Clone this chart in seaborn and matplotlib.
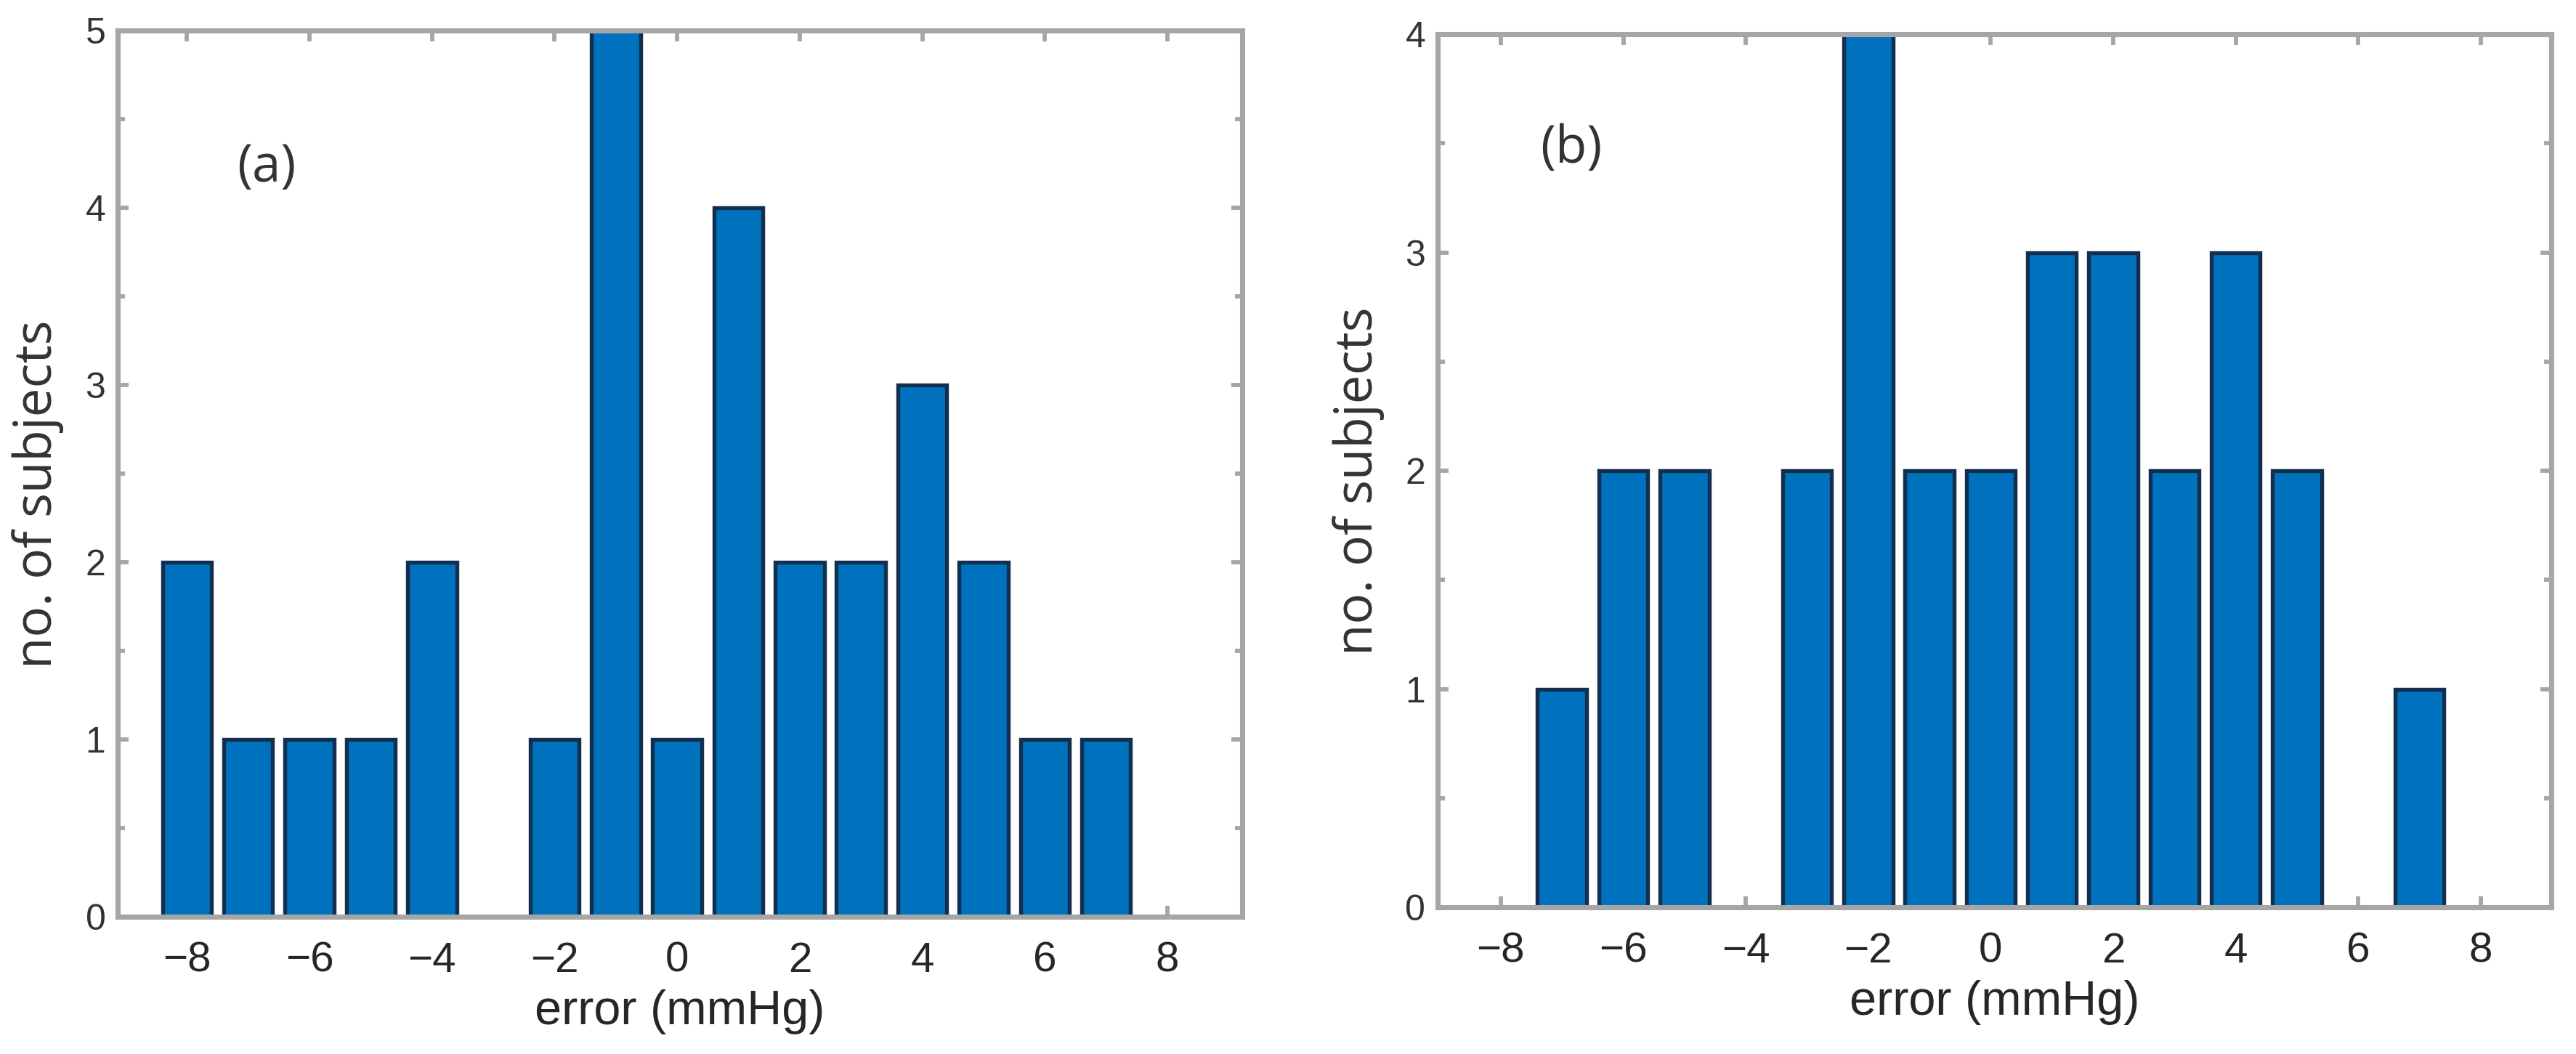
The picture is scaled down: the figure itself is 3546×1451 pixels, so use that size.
import matplotlib
matplotlib.use('Agg')
import matplotlib.pyplot as plt
import seaborn as sns
from matplotlib.ticker import MultipleLocator

# error value (mmHg) and number of subjects for each panel
err_a = [-8, -7, -6, -5, -4, -2, -1, 0, 1, 2, 3, 4, 5, 6, 7]
n_a = [2, 1, 1, 1, 2, 1, 5, 1, 4, 2, 2, 3, 2, 1, 1]

err_b = [-7, -6, -5, -3, -2, -1, 0, 1, 2, 3, 4, 5, 7]
n_b = [1, 2, 2, 2, 4, 2, 2, 3, 3, 2, 3, 2, 1]

xticks = [-8, -6, -4, -2, 0, 2, 4, 6, 8]

sns.set_style('ticks')
plt.rcParams['font.family'] = ['Liberation Sans', 'DejaVu Sans']

bar_color = '#0072BD'
edge_color = '#122f50'
spine_color = '#a6a6a6'

fig = plt.figure(figsize=(3546 / 300, 1451 / 300), dpi=300)
ax_a = fig.add_axes([0.0457, 0.130, 0.4365, 0.841])
ax_b = fig.add_axes([0.5581, 0.139, 0.4323, 0.8286])


def draw_panel(ax, x, y, ymax, xlim, tag, tag_pos):
    sns.barplot(x=x, y=y, native_scale=True, color=bar_color, saturation=1,
                width=0.8, edgecolor=edge_color, linewidth=1.3,
                errorbar=None, ax=ax)
    ax.set_xlim(*xlim)
    ax.set_ylim(0, ymax)
    ax.set_xticks(xticks)
    ax.set_yticks(range(ymax + 1))
    ax.yaxis.set_minor_locator(MultipleLocator(0.5))
    for s in ax.spines.values():
        s.set_visible(True)
        s.set_color(spine_color)
        s.set_linewidth(1.7)
    ax.tick_params(which='both', direction='in', top=True, right=True,
                   color=spine_color, width=1.4)
    ax.tick_params(which='major', length=3.5)
    ax.tick_params(which='minor', length=2.5)
    ax.tick_params(axis='x', which='both', bottom=True, top=True)
    ax.tick_params(axis='x', labelsize=14, labelcolor='#262626', pad=8)
    ax.tick_params(axis='y', labelsize=12, labelcolor='#333333', pad=4)
    ax.set_xlabel('error (mmHg)', fontsize=16, color='#262626', labelpad=3)
    ax.set_ylabel('no. of subjects', fontsize=17, color='#333333',
                  family=['Open Sans', 'DejaVu Sans'], va='center')
    ax.text(tag_pos[0], tag_pos[1], tag, transform=ax.transAxes,
            fontsize=17, color='#333333', ha='center', va='center',
            family=['Open Sans', 'DejaVu Sans'])


draw_panel(ax_a, err_a, n_a, 5, (-9.13, 9.22), '(a)', (0.132, 0.845))
draw_panel(ax_b, err_b, n_b, 4, (-9.03, 9.15), '(b)', (0.120, 0.868))

ax_a.yaxis.set_label_coords(-0.071, 0.477)
ax_b.yaxis.set_label_coords(-0.071, 0.488)

fig.savefig('out.png', dpi=300)
